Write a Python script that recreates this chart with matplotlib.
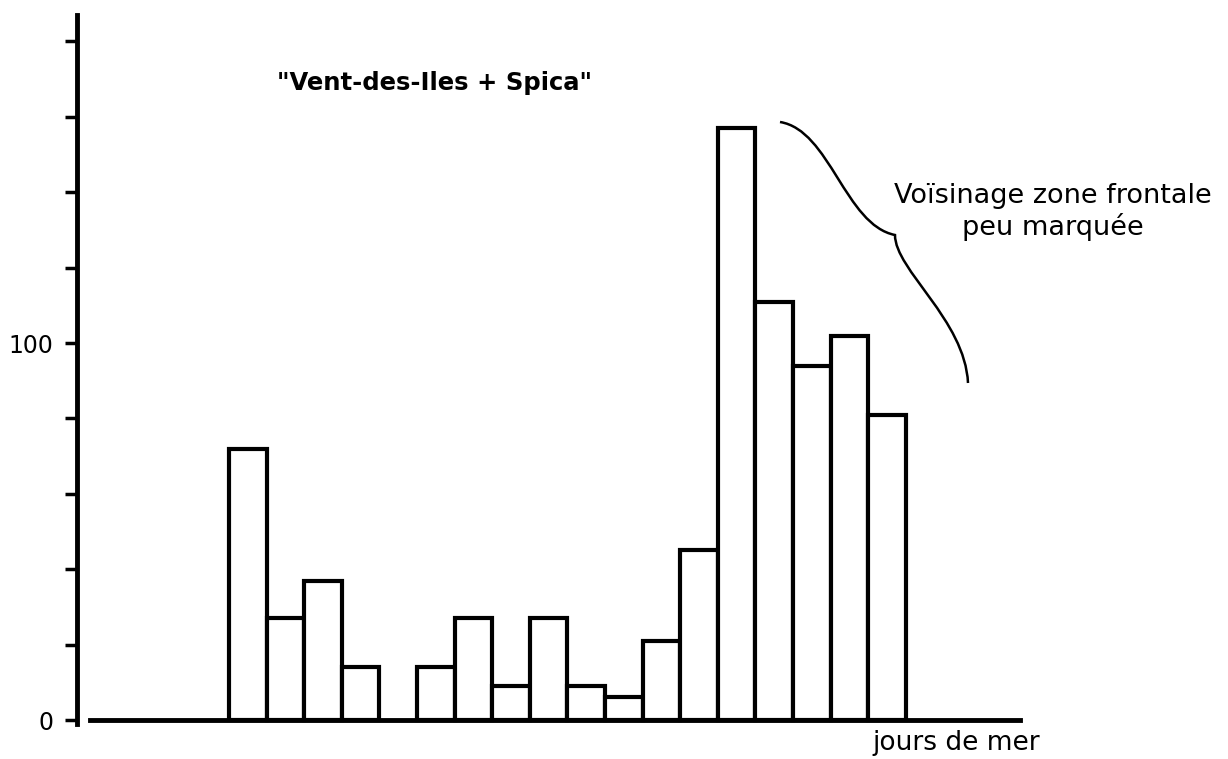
import matplotlib
matplotlib.use("Agg")
import matplotlib.pyplot as plt
from matplotlib.path import Path
from matplotlib.patches import PathPatch

# jours de mer (position de la classe) et effectifs
jours = [0, 1, 2, 3, 5, 6, 7, 8, 9, 10, 11, 12, 13, 14, 15, 16, 17]
effectifs = [72, 27, 37, 14, 14, 27, 9, 27, 9, 6, 21, 45, 157, 111, 94, 102, 81]

graduations = [0, 20, 40, 60, 80, 100, 120, 140, 160, 180]
etiquettes = ["0", "", "", "", "", "100", "", "", "", ""]

titre = '"Vent-des-Iles + Spica"'
note = "Voïsinage zone frontale\npeu marquée"
legende_x = "jours de mer"

plt.rcParams['font.family'] = ['DejaVu Sans']

fig = plt.figure(figsize=(12.28, 7.59), dpi=100)
ax = fig.add_axes([0.0627, 0.0439, 0.7686, 0.9362])

ax.bar(jours, effectifs, width=1.0, color="white", edgecolor="black",
       linewidth=3, zorder=2)

ax.set_xlim(-4.54, 20.56)
ax.set_ylim(-1.5, 187)

for cote in ["top", "right"]:
    ax.spines[cote].set_visible(False)
ax.spines["left"].set_linewidth(3.5)
ax.spines["left"].set_bounds(-1, 187)
ax.spines["bottom"].set_linewidth(3.5)
ax.spines["bottom"].set_position(("data", 0))
ax.spines["bottom"].set_bounds(-4.2, 20.54)
ax.spines["bottom"].set_zorder(3)

ax.set_xticks([])
ax.set_yticks(graduations)
ax.set_yticklabels(etiquettes)
ax.tick_params(axis="y", direction="out", length=9, width=2.5,
               labelsize=17, pad=8)

fig.text(0.354, 0.891, titre, ha="center", va="center",
         fontsize=17.5, fontweight="bold")
fig.text(0.8575, 0.7207, note, ha="center", va="center",
         fontsize=19.5, linespacing=1.15)
fig.text(0.7785, 0.021, legende_x, ha="center", va="center", fontsize=19)

# accolade dessinée à la main (coordonnées en pixels de la figure)
W, H = 1228, 759
pts = [(780, 122), (830, 130), (845, 225), (895, 235),
       (895, 270), (965, 320), (968, 383)]
verts = [(x / W, 1 - y / H) for x, y in pts]
codes = [Path.MOVETO] + [Path.CURVE4] * 6
fig.patches.append(PathPatch(Path(verts, codes), transform=fig.transFigure,
                             fill=False, linewidth=1.8, edgecolor="black"))

fig.savefig("out.png", dpi=100, facecolor="white")
